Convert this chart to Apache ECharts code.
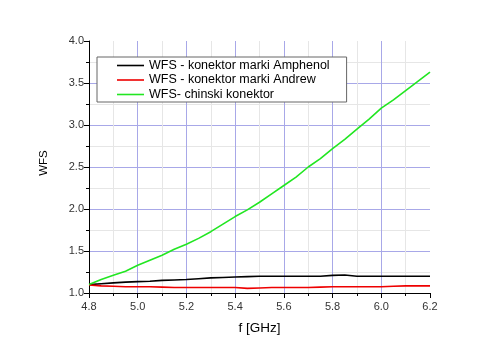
<!DOCTYPE html>
<html>
<head>
<meta charset="utf-8">
<script src="https://cdn.jsdelivr.net/npm/echarts@6/dist/echarts.min.js"></script>
<style>
  html, body { margin: 0; padding: 0; background: #fff; }
  #main { width: 500px; height: 352px; }
</style>
</head>
<body>
<div id="main"></div>
<script>
// częstotliwość [GHz]
const freq = [4.80, 4.85, 4.90, 4.95, 5.00, 5.05, 5.10, 5.15, 5.20, 5.25,
  5.30, 5.35, 5.40, 5.45, 5.50, 5.55, 5.60, 5.65, 5.70, 5.75,
  5.80, 5.85, 5.90, 5.95, 6.00, 6.05, 6.10, 6.15, 6.20];

const seriesNames = ['WFS - konektor marki Amphenol', 'WFS - konektor marki Andrew', 'WFS- chinski konektor'];

const amphenol = [1.10, 1.11, 1.12, 1.13, 1.135, 1.14, 1.15, 1.155, 1.16, 1.17,
  1.18, 1.185, 1.19, 1.195, 1.20, 1.20, 1.20, 1.20, 1.20, 1.20,
  1.21, 1.215, 1.20, 1.20, 1.20, 1.20, 1.20, 1.20, 1.20];

const andrew = [1.095, 1.085, 1.08, 1.075, 1.075, 1.075, 1.07, 1.065, 1.065, 1.065,
  1.065, 1.065, 1.065, 1.055, 1.06, 1.065, 1.065, 1.065, 1.065, 1.07,
  1.075, 1.075, 1.075, 1.075, 1.075, 1.08, 1.085, 1.085, 1.085];

const chinski = [1.10, 1.16, 1.21, 1.26, 1.33, 1.39, 1.45, 1.52, 1.58, 1.65,
  1.73, 1.82, 1.91, 1.99, 2.08, 2.18, 2.28, 2.38, 2.50, 2.60,
  2.72, 2.83, 2.95, 3.07, 3.20, 3.30, 3.41, 3.52, 3.63];

const colors = ['#000000', '#ee0000', '#22e622'];

const pairs = vals => freq.map((f, i) => [f, vals[i]]);

const FONT = 'Liberation Sans, Arial, sans-serif';

const chart = echarts.init(document.getElementById('main'));

const labelStyle = { color: '#333', fontSize: 11, fontFamily: FONT };

const option = {
  animation: false,
  grid: { left: 89, right: 70, top: 41, bottom: 59 },
  legend: {
    orient: 'vertical',
    left: 97,
    top: 57,
    padding: [2, 17, 1, 20],
    itemWidth: 27,
    itemHeight: 14,
    itemGap: 1.5,
    // sama linia, bez kółek
    icon: 'path://M0,0H27V1.6H0Z',
    borderColor: '#666',
    borderWidth: 1,
    backgroundColor: '#fff',
    textStyle: { color: '#000', fontSize: 12.5, fontFamily: FONT },
    data: seriesNames
  },
  xAxis: {
    type: 'value',
    min: 4.8,
    max: 6.2,
    interval: 0.2,
    name: 'f [GHz]',
    nameLocation: 'middle',
    nameGap: 28,
    nameTextStyle: { color: '#000', fontSize: 13.5, fontFamily: FONT },
    axisLine: { lineStyle: { color: '#000', width: 1 } },
    axisTick: { length: 5, lineStyle: { color: '#000' } },
    minorTick: { show: true, splitNumber: 2, length: 3, lineStyle: { color: '#000' } },
    axisLabel: Object.assign({ formatter: v => v.toFixed(1), margin: 8 }, labelStyle),
    splitLine: { show: true, showMinLine: false, showMaxLine: false, lineStyle: { color: '#a8a8e8', width: 1 } },
    minorSplitLine: { show: true, lineStyle: { color: '#e6e6e6', width: 1 } }
  },
  yAxis: {
    type: 'value',
    min: 1.0,
    max: 4.0,
    interval: 0.5,
    name: 'WFS',
    nameLocation: 'middle',
    nameGap: 39,
    nameTextStyle: { color: '#000', fontSize: 11.5, fontFamily: FONT, padding: [0, 0, 0, 8] },
    axisLine: { show: true, lineStyle: { color: '#000', width: 1 } },
    axisTick: { show: true, length: 5, lineStyle: { color: '#000' } },
    minorTick: { show: true, splitNumber: 2, length: 3, lineStyle: { color: '#000' } },
    axisLabel: Object.assign({ formatter: v => v.toFixed(1), margin: 5 }, labelStyle),
    splitLine: { show: true, showMinLine: false, showMaxLine: false, lineStyle: { color: '#a8a8e8', width: 1 } },
    minorSplitLine: { show: true, lineStyle: { color: '#e6e6e6', width: 1 } }
  },
  series: [amphenol, andrew, chinski].map((vals, i) => ({
    name: seriesNames[i],
    type: 'line',
    data: pairs(vals),
    symbol: 'none',
    z: 3 + i,
    lineStyle: { color: colors[i], width: 1.6 },
    itemStyle: { color: colors[i] }
  }))
};

chart.setOption(option);
</script>
</body>
</html>
